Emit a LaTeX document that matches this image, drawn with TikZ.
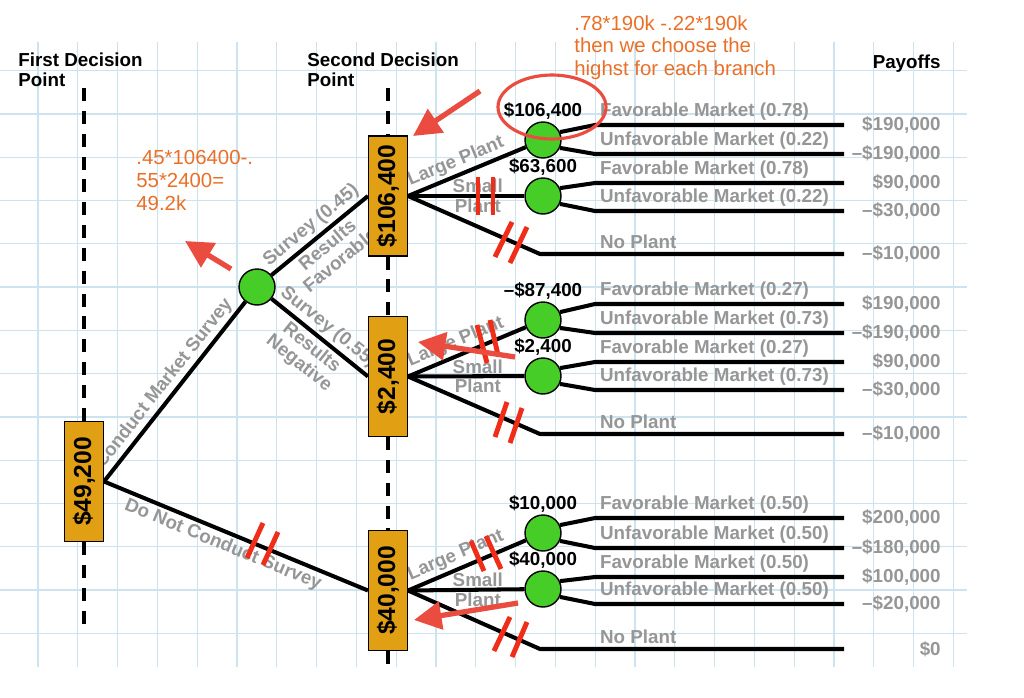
\documentclass[tikz,border=0pt]{standalone}
\usepackage{fontspec}
\setmainfont{Liberation Sans}
\usetikzlibrary{positioning,arrows.meta}

\definecolor{boxorange}{RGB}{225,160,20}
\definecolor{nodegreen}{RGB}{70,205,40}
\definecolor{labelgray}{RGB}{150,150,150}
\definecolor{gridblue}{RGB}{205,228,240}
\definecolor{cutred}{RGB}{240,45,25}
\definecolor{markred}{RGB}{234,76,64}
\definecolor{noteorange}{RGB}{234,112,40}

\pgfdeclarelayer{grid}
\pgfdeclarelayer{edges}
\pgfsetlayers{grid,edges,main}

\begin{document}
\begin{tikzpicture}[x=0.02cm, y=-0.02cm,
	decision/.style={draw=black, line width=0.6pt, fill=boxorange, minimum width=0.78cm, minimum height=2.4cm, inner sep=0pt, font=\fontsize{14}{16}\selectfont\bfseries},
	chance/.style={circle, draw=black, line width=0.8pt, fill=nodegreen, minimum size=0.72cm, inner sep=0pt},
	evtext/.style={font=\fontsize{10.7}{12}\selectfont\bfseries, inner sep=1pt},
	head/.style={font=\fontsize{10.7}{11.3}\selectfont\bfseries, align=left, inner sep=0pt},
	lbl/.style={text=labelgray, font=\fontsize{10.7}{11.3}\selectfont\bfseries, inner sep=1.5pt},
	mkt/.style={lbl, pos=0, anchor=south west, inner sep=0pt, xshift=0.06cm, yshift=0.06cm},
	payoff/.style={lbl, anchor=east, inner sep=0pt},
	branch/.style={line width=2.3pt, line join=round},
	guide/.style={line width=2pt, dash pattern=on 7.4pt off 5.6pt},
	cut/.style={draw=cutred, line width=2.8pt},
	note/.style={text=noteorange, font=\fontsize{11.6}{13}\selectfont, align=left, inner sep=0pt, anchor=north west},
	remark/.style={draw=markred, line width=3pt, -{Triangle[length=0.55cm, width=0.55cm]}}
	]
	\useasboundingbox (0,0) rectangle (1024,697);

	\begin{pgfonlayer}{grid}
		\fill[white] (0,0) rectangle (1024,697);
		\foreach \gx in {0,...,23} \draw[gridblue, line width=0.7pt] ({38+39.8*\gx},42) -- ({38+39.8*\gx},667);
		\foreach \gy in {0,...,13} \draw[gridblue, line width=0.7pt] (0,{70.7+43.28*\gy}) -- (967,{70.7+43.28*\gy});
	\end{pgfonlayer}

	\node[head, anchor=north west] (first) at (18,53) {First Decision\\Point};
	\node[head, anchor=north west] (second) at (307,53) {Second Decision\\Point};
	\node[head, anchor=base east] (pay) at (941,68) {Payoffs};

	\node[decision] (dA) at (84,481.5) {\rotatebox{90}{\$49,200}};
	\node[decision] (dB) at (388,196) {\rotatebox{90}{\$106,400}};
	\node[decision] (dC) at (388,376.5) {\rotatebox{90}{\$2,400}};
	\node[decision] (dD) at (388,590.5) {\rotatebox{90}{\$40,000}};

	\node[chance] (cS) at (257,287) {};
	\node[chance] (c1) at (543,140) {};
	\node[chance] (c2) at (543,196) {};
	\node[chance] (c3) at (543,320) {};
	\node[chance] (c4) at (543,376) {};
	\node[chance] (c5) at (543,533) {};
	\node[chance] (c6) at (543,589) {};

	\node[evtext, above=0pt of c1] (v1) {\$106,400};
	\node[evtext, above=0pt of c2] (v2) {\$63,600};
	\node[evtext, above=0pt of c3] (v3) {–\$87,400};
	\node[evtext, above=0pt of c4] (v4) {\$2,400};
	\node[evtext, above=0pt of c5] (v5) {\$10,000};
	\node[evtext, above=0pt of c6] (v6) {\$40,000};

	\node[payoff] (p1) at (941,125) {\$190,000};
	\node[payoff] (p2) at (941,154) {–\$190,000};
	\node[payoff] (p3) at (941,183) {\$90,000};
	\node[payoff] (p4) at (941,211) {–\$30,000};
	\node[payoff] (p5) at (941,254) {–\$10,000};
	\node[payoff] (p6) at (941,304) {\$190,000};
	\node[payoff] (p7) at (941,333) {–\$190,000};
	\node[payoff] (p8) at (941,362) {\$90,000};
	\node[payoff] (p9) at (941,390) {–\$30,000};
	\node[payoff] (p10) at (941,434) {–\$10,000};
	\node[payoff] (p11) at (941,518) {\$200,000};
	\node[payoff] (p12) at (941,548) {–\$180,000};
	\node[payoff] (p13) at (941,577) {\$100,000};
	\node[payoff] (p14) at (941,604) {–\$20,000};
	\node[payoff] (p15) at (941,649) {\$0};

	\coordinate (nx) at (540,0);
	\coordinate (bx) at (595,0);
	\coordinate (ex) at (844,0);
	\coordinate (g1top) at (84,88);
	\coordinate (g1bot) at (84,630);
	\coordinate (g2top) at (388,88);
	\coordinate (g2bot) at (388,668);

	\begin{pgfonlayer}{edges}
		\draw[guide] (g1top) -- (dA.north) (dA.south) -- (g1bot);
		\draw[guide] (g2top) -- (dB.north) (dB.south) -- (dC.north) (dC.south) -- (dD.north) (dD.south) -- (g2bot);

		\draw[branch] (dA.east) -- node[lbl, sloped, above] {Conduct Market Survey} (cS);
		\draw[branch] (dA.east) -- node[lbl, sloped, below, pos=.47] {Do Not Conduct Survey} (dD.west);
		\draw[branch] (cS) -- node[lbl, sloped, above] {Survey (0.45)} node[lbl, sloped, below, align=center] {Results\\Favorable} (dB.west);
		\draw[branch] (cS) -- node[lbl, sloped, above] {Survey (0.55)} node[lbl, sloped, below, align=center] {Results\\Negative} (dC.west);

		% survey favorable
		\draw[branch] (dB.east) -- node[lbl, sloped, above, pos=.45] {Large Plant} (c1);
		\draw[branch] (dB.east) -- node[lbl, align=center, pos=.6] {Small\\Plant} (c2);
		\draw[branch] (dB.east) -- (nx |- p5) -- (bx |- p5) -- node[mkt] {No Plant} (ex |- p5);
		\draw[branch] (c1.25) -- (bx |- p1) -- node[mkt] {Favorable Market (0.78)} (ex |- p1);
		\draw[branch] (c1.-25) -- (bx |- p2) -- node[mkt] {Unfavorable Market (0.22)} (ex |- p2);
		\draw[branch] (c2.25) -- (bx |- p3) -- node[mkt] {Favorable Market (0.78)} (ex |- p3);
		\draw[branch] (c2.-25) -- (bx |- p4) -- node[mkt] {Unfavorable Market (0.22)} (ex |- p4);

		% survey negative
		\draw[branch] (dC.east) -- node[lbl, sloped, above, pos=.45] {Large Plant} (c3);
		\draw[branch] (dC.east) -- node[lbl, align=center, pos=.6] {Small\\Plant} (c4);
		\draw[branch] (dC.east) -- (nx |- p10) -- (bx |- p10) -- node[mkt] {No Plant} (ex |- p10);
		\draw[branch] (c3.25) -- (bx |- p6) -- node[mkt] {Favorable Market (0.27)} (ex |- p6);
		\draw[branch] (c3.-25) -- (bx |- p7) -- node[mkt] {Unfavorable Market (0.73)} (ex |- p7);
		\draw[branch] (c4.25) -- (bx |- p8) -- node[mkt] {Favorable Market (0.27)} (ex |- p8);
		\draw[branch] (c4.-25) -- (bx |- p9) -- node[mkt] {Unfavorable Market (0.73)} (ex |- p9);

		% no survey
		\draw[branch] (dD.east) -- node[lbl, sloped, above, pos=.45] {Large Plant} (c5);
		\draw[branch] (dD.east) -- node[lbl, align=center, pos=.6] {Small\\Plant} (c6);
		\draw[branch] (dD.east) -- (nx |- p15) -- (bx |- p15) -- node[mkt] {No Plant} (ex |- p15);
		\draw[branch] (c5.25) -- (bx |- p11) -- node[mkt] {Favorable Market (0.50)} (ex |- p11);
		\draw[branch] (c5.-25) -- (bx |- p12) -- node[mkt] {Unfavorable Market (0.50)} (ex |- p12);
		\draw[branch] (c6.25) -- (bx |- p13) -- node[mkt] {Favorable Market (0.50)} (ex |- p13);
		\draw[branch] (c6.-25) -- (bx |- p14) -- node[mkt] {Unfavorable Market (0.50)} (ex |- p14);
	\end{pgfonlayer}

	% pruned branches
	\draw[cut] (247,558) -- (263,523) (263,565) -- (278,532);
	\draw[cut] (478,177) -- (478,215) (493,177) -- (493,215);
	\draw[cut] (495,257) -- (512,222) (510,263) -- (527,227);
	\draw[cut] (477,325) -- (487,363) (490,320) -- (498,355);
	\draw[cut] (495,437) -- (507,402) (510,443) -- (522,408);
	\draw[cut] (471,541) -- (484,571) (486,536) -- (501,569);
	\draw[cut] (494,651) -- (510,617) (512,657) -- (527,622);

	\node[note] (n1) at (574,15) {.78*190k -.22*190k\\then we choose the\\highst for each branch};
	\node[note] (n2) at (136,150) {.45*106400-.\\55*2400=\\49.2k};
	\draw[markred, line width=1.8pt] (552,107) ellipse [x radius=1.08cm, y radius=0.64cm];

	\coordinate (a1s) at (480,91);
	\coordinate (a1e) at (413,136);
	\coordinate (a2s) at (231,269);
	\coordinate (a2e) at (185,241);
	\coordinate (a3s) at (515,357);
	\coordinate (a3e) at (418,342);
	\coordinate (a4s) at (518,603);
	\coordinate (a4e) at (414,620);
	\draw[remark] (a1s) -- (a1e);
	\draw[remark] (a2s) -- (a2e);
	\draw[remark] (a3s) -- (a3e);
	\draw[remark] (a4s) -- (a4e);
\end{tikzpicture}
\end{document}
